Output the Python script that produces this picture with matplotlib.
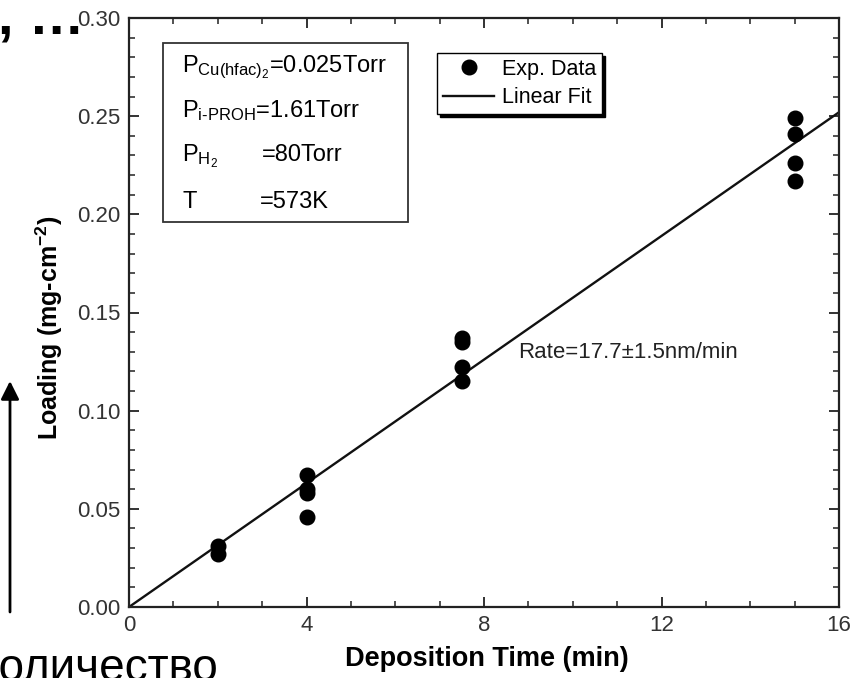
import numpy as np
import matplotlib
matplotlib.use("Agg")
import matplotlib.pyplot as plt
from matplotlib.ticker import MultipleLocator, FormatStrFormatter
from matplotlib.patches import Rectangle, FancyArrowPatch

plt.rcParams['font.family'] = ['Liberation Sans', 'DejaVu Sans']
plt.rcParams['mathtext.fontset'] = 'custom'
plt.rcParams['mathtext.rm'] = 'Liberation Sans'
plt.rcParams['mathtext.it'] = 'Liberation Sans:italic'
plt.rcParams['mathtext.bf'] = 'Liberation Sans:bold'

# ---- data ----
deposition_time = [2, 2, 4, 4, 4, 4, 7.5, 7.5, 7.5, 7.5, 15, 15, 15, 15]
loading = [0.031, 0.027, 0.067, 0.060, 0.058, 0.046,
           0.137, 0.135, 0.122, 0.115, 0.249, 0.241, 0.226, 0.217]
x_ticks = [0, 4, 8, 12, 16]
y_ticks = [0.00, 0.05, 0.10, 0.15, 0.20, 0.25, 0.30]
param_lines = [
    (r'P$_{\mathrm{Cu(hfac)}_{2}}$=0.025Torr', None),
    (r'P$_{\text{i-PROH}}$=1.61Torr', None),
    (r'P$_{\mathrm{H}_{2}}$', '=80Torr'),
    ('T', '=573K'),
]
rate_text = 'Rate=17.7±1.5nm/min'

W, H = 863, 678
def fx(px):
    return px / W
def fy(py):
    return 1 - py / H

fig = plt.figure(figsize=(W / 100, H / 100), dpi=100)
ax = fig.add_axes([fx(129), fy(607), (839 - 129) / W, (607 - 18) / H])

t = np.asarray(deposition_time, dtype=float)
L = np.asarray(loading, dtype=float)
slope = np.sum(t * L) / np.sum(t * t)   # linear fit through origin
t_fit = np.array([0.0, 16.0])

ax.plot(t, L, 'o', color='black', markersize=10.5, label='Exp. Data', zorder=3)
ax.plot(t_fit, slope * t_fit, '-', color='#111111', lw=1.7, label='Linear Fit', zorder=2)

ax.set_xlim(0, 16)
ax.set_ylim(0, 0.30)
ax.set_xticks(x_ticks)
ax.set_yticks(y_ticks)
ax.xaxis.set_minor_locator(MultipleLocator(1))
ax.yaxis.set_minor_locator(MultipleLocator(0.01))
ax.yaxis.set_major_formatter(FormatStrFormatter('%.2f'))
ax.tick_params(which='both', direction='in', top=True, right=True,
               colors='#222222', labelcolor='#333333')
ax.tick_params(which='major', length=7, width=1.3, labelsize=16, pad=6)
ax.tick_params(which='minor', length=4, width=1.1)
for s in ax.spines.values():
    s.set_linewidth(1.6)
    s.set_color('#222222')

ax.set_xlabel('Deposition Time (min)', fontsize=19.5, fontweight='bold')
ax.set_ylabel(r'Loading (mg-cm$^{\mathbf{-2}}$)', fontsize=18, fontweight='bold')
ax.xaxis.set_label_coords(0.504, -0.066)
ax.yaxis.set_label_coords(-0.09, 0.474)

leg = ax.legend(loc='upper left', bbox_to_anchor=(fx(437), fy(53)),
                bbox_transform=fig.transFigure, frameon=True, fancybox=False,
                shadow={'color': 'black', 'alpha': 1.0}, edgecolor='black',
                fontsize=15.5, borderpad=0.27, handlelength=2.4, handletextpad=0.35,
                labelspacing=0.35, borderaxespad=0)
leg.get_frame().set_linewidth(1.0)
leg.get_frame().set_alpha(1.0)

# parameter box
fig.add_artist(Rectangle((fx(163), fy(222)), (408 - 163) / W, (222 - 43) / H,
                         transform=fig.transFigure, fill=False,
                         edgecolor='#333333', lw=1.3))
baselines = [72, 117, 161, 208]
value_x = [None, None, 262, 260]
for (main, val), by, vx in zip(param_lines, baselines, value_x):
    fig.text(fx(182), fy(by), main, fontsize=17, va='baseline', ha='left')
    if val is not None:
        fig.text(fx(vx), fy(by), val, fontsize=17, va='baseline', ha='left')

fig.text(fx(518), fy(352), rate_text, fontsize=16, va='center', ha='left',
         color='#222222')

# slide overlay elements
fig.text(fx(-2), fy(33), ', …', fontsize=40, fontweight='bold',
         va='baseline', ha='left')
fig.text(fx(-28), fy(681), 'Количество', fontsize=33, va='baseline', ha='left')
fig.add_artist(FancyArrowPatch((fx(10), fy(612)), (fx(10), fy(381)),
                               transform=fig.transFigure,
                               arrowstyle='-|>,head_length=11,head_width=5.5',
                               mutation_scale=1, lw=2, color='black',
                               shrinkA=0, shrinkB=0))

fig.savefig('out.png', dpi=100)
